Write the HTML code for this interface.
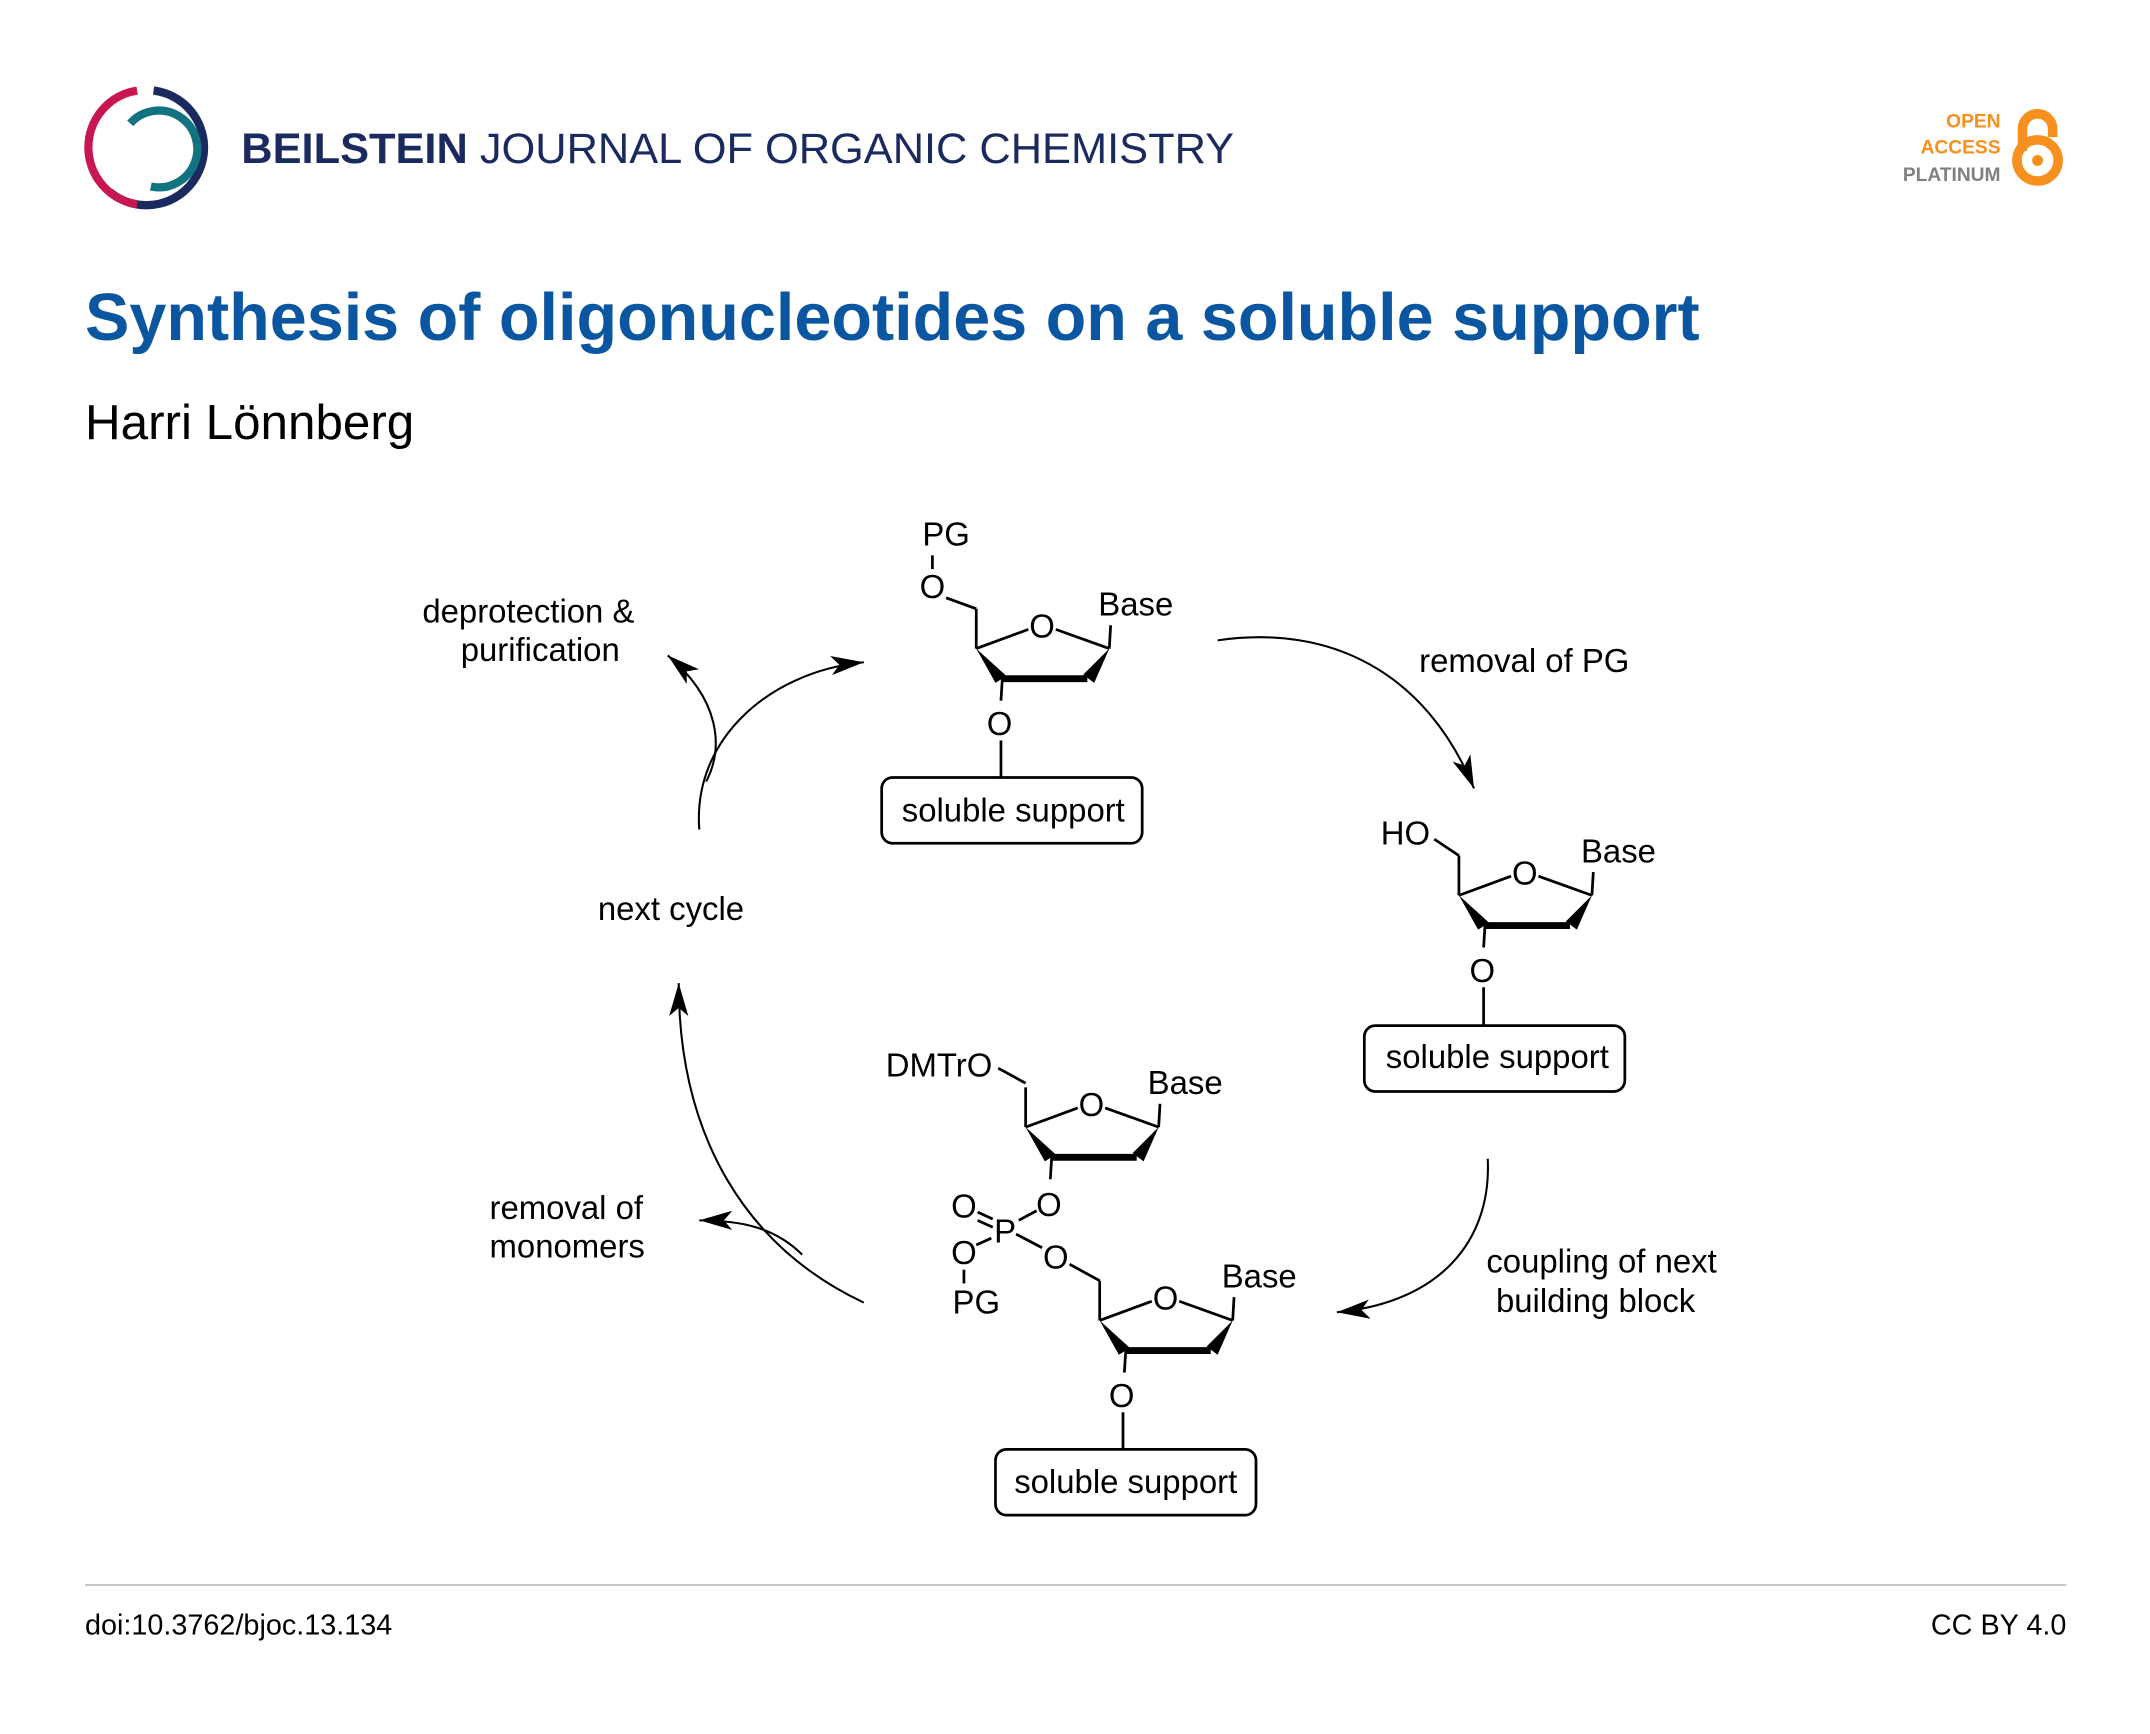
<!DOCTYPE html>
<html><head><meta charset="utf-8"><style>html,body{margin:0;padding:0;background:#fff}svg{display:block}</style></head>
<body>
<svg width="2150" height="1734" viewBox="0 0 1568 1264.6" xmlns="http://www.w3.org/2000/svg" font-family="Liberation Sans, Arial, sans-serif">
<defs>
<g id="sugar" fill="none" stroke="#000" stroke-width="2">
<line x1="0" y1="0" x2="0" y2="-29"/>
<line x1="0" y1="0" x2="38" y2="-14"/>
<line x1="58" y1="-14" x2="97" y2="0"/>
<line x1="97" y1="0" x2="98" y2="-17"/>
<line x1="19" y1="22" x2="81" y2="22" stroke-width="5"/>
<polygon points="0,0 14,25 22,20" fill="#000" stroke="none"/>
<polygon points="97,0 78,19 86,25" fill="#000" stroke="none"/>
<text x="48" y="-8" font-size="24" fill="#000" stroke="none" text-anchor="middle">O</text>
<text x="89" y="-24" font-size="24" fill="#000" stroke="none">Base</text>
<line x1="19" y1="22" x2="18" y2="38"/>
</g>
<marker id="ah" viewBox="0 0 24 14" refX="24" refY="7" markerWidth="24" markerHeight="14" markerUnits="userSpaceOnUse" orient="auto"><path d="M0,0 L24,7 L0,14 L6,7 Z" fill="#000"/></marker>
</defs>

<!-- header -->
<g fill="none" stroke-width="6">
<path d="M112,66 A42,42 0 1 1 80,140" stroke="#1b2a5e"/>
<path d="M100,66 A42,42 0 0 0 100,149" stroke="#c8174f"/>
<path d="M95,90 A28,28 0 1 1 110,136" stroke="#11737f"/>
</g>
<text x="176" y="119" font-size="31" fill="#1b2a5e" textLength="724" lengthAdjust="spacingAndGlyphs"><tspan font-weight="bold">BEILSTEIN</tspan> JOURNAL OF ORGANIC CHEMISTRY</text>
<text x="1459" y="93" font-size="14" font-weight="bold" fill="#f7901e" text-anchor="end">OPEN</text>
<text x="1459" y="112" font-size="14" font-weight="bold" fill="#f7901e" text-anchor="end">ACCESS</text>
<text x="1459" y="132" font-size="14" font-weight="bold" fill="#808080" text-anchor="end">PLATINUM</text>
<g fill="none" stroke="#f7901e" stroke-width="7">
<path d="M1475,110 V94 A11,11 0 0 1 1497,94 V100"/>
<circle cx="1486" cy="117" r="15"/>
</g>
<circle cx="1486" cy="117" r="4" fill="#f7901e"/>

<text x="62" y="248" font-size="48.5" font-weight="bold" fill="#0b56a0">Synthesis of oligonucleotides on a soluble support</text>
<text x="62" y="320" font-size="36" fill="#000">Harri Lönnberg</text>

<!-- structures -->
<g font-size="24" fill="#000">
<use href="#sugar" x="712" y="473"/>
<text x="680" y="436" text-anchor="middle">O</text>
<text x="690" y="398" text-anchor="middle">PG</text>
<line x1="680" y1="405" x2="680" y2="415" stroke="#000" stroke-width="2"/>
<line x1="690" y1="436" x2="712" y2="444" stroke="#000" stroke-width="2"/>
<text x="729" y="536" text-anchor="middle">O</text>
<line x1="730" y1="540" x2="730" y2="567" stroke="#000" stroke-width="2"/>
<rect x="643" y="567" width="190" height="48" rx="8" fill="none" stroke="#000" stroke-width="2"/>
<text x="739" y="599" text-anchor="middle">soluble support</text>

<use href="#sugar" x="1064" y="653"/>
<text x="1007" y="616">HO</text>
<line x1="1046" y1="612" x2="1064" y2="624" stroke="#000" stroke-width="2"/>
<text x="1081" y="716" text-anchor="middle">O</text>
<line x1="1082" y1="720" x2="1082" y2="748" stroke="#000" stroke-width="2"/>
<rect x="995" y="748" width="190" height="48" rx="8" fill="none" stroke="#000" stroke-width="2"/>
<text x="1092" y="779" text-anchor="middle">soluble support</text>

<use href="#sugar" x="748" y="822"/>
<text x="646" y="785">DMTrO</text>
<line x1="728" y1="779" x2="748" y2="790" stroke="#000" stroke-width="2"/>
<text x="765" y="887" text-anchor="middle">O</text>
<text x="733" y="906" text-anchor="middle">P</text>
<text x="703" y="888" text-anchor="middle">O</text>
<text x="703" y="922" text-anchor="middle">O</text>
<text x="712" y="958" text-anchor="middle">PG</text>
<text x="770" y="925" text-anchor="middle">O</text>
<g stroke="#000" stroke-width="2">
<line x1="743" y1="890" x2="756" y2="883"/>
<line x1="713" y1="884" x2="724" y2="889"/>
<line x1="713" y1="890" x2="724" y2="895"/>
<line x1="712" y1="908" x2="723" y2="903"/>
<line x1="703" y1="926" x2="703" y2="936"/>
<line x1="741" y1="900" x2="760" y2="910"/>
<line x1="780" y1="922" x2="802" y2="934"/>
</g>
<use href="#sugar" x="802" y="963"/>
<text x="818" y="1026" text-anchor="middle">O</text>
<line x1="819" y1="1030" x2="819" y2="1057" stroke="#000" stroke-width="2"/>
<rect x="726" y="1057" width="190" height="48" rx="8" fill="none" stroke="#000" stroke-width="2"/>
<text x="821" y="1089" text-anchor="middle">soluble support</text>
</g>

<!-- arrows -->
<g fill="none" stroke="#000" stroke-width="1.5">
<path d="M888,467 C970,455 1040,490 1075,575" marker-end="url(#ah)"/>
<path d="M1085,845 C1088,905 1050,950 975,957" marker-end="url(#ah)"/>
<path d="M630,950 C545,910 495,830 495,717" marker-end="url(#ah)"/>
<path d="M585,915 C565,895 540,890 510,890" marker-end="url(#ah)"/>
<path d="M510,605 C505,540 560,490 630,483" marker-end="url(#ah)"/>
<path d="M515,570 C528,545 525,510 487,478" marker-end="url(#ah)"/>
</g>

<g font-size="24" fill="#000">
<text x="308" y="454">deprotection &amp;</text>
<text x="336" y="482">purification</text>
<text x="1035" y="490">removal of PG</text>
<text x="436" y="671">next cycle</text>
<text x="357" y="889">removal of</text>
<text x="357" y="917">monomers</text>
<text x="1084" y="928">coupling of next</text>
<text x="1091" y="957">building block</text>
</g>

<line x1="62" y1="1156" x2="1507" y2="1156" stroke="#c8c8c8" stroke-width="1.5"/>
<text x="62" y="1192" font-size="21" fill="#000">doi:10.3762/bjoc.13.134</text>
<text x="1507" y="1192" font-size="21" fill="#000" text-anchor="end">CC BY 4.0</text>
</svg>
</body></html>
